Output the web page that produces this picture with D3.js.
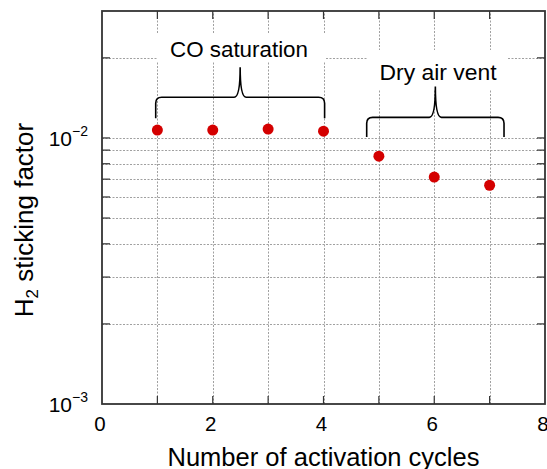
<!DOCTYPE html>
<html>
<head>
<meta charset="utf-8">
<script src="https://cdn.jsdelivr.net/npm/d3@7"></script>
<style>
  body { margin: 0; background: #fff; }
  text { font-family: "Liberation Sans", Arial, sans-serif; fill: #000; }
</style>
</head>
<body>
<svg id="chart"></svg>
<script>
// activation cycle number and H2 sticking factor
const cycles = [1, 2, 3, 4, 5, 6, 7]
const sticking = [0.0107, 0.0107, 0.0108, 0.0106, 0.00854, 0.00713, 0.00664]

const xTicks = [0, 2, 4, 6, 8]
const xMinorTicks = [1, 2, 3, 4, 5, 6, 7]
const yMajorTicks = [1e-3, 1e-2]
const yExponents = ["−3", "−2"]
const yGridTicks = [2e-3, 3e-3, 4e-3, 5e-3, 6e-3, 7e-3, 8e-3, 9e-3, 1e-2, 2e-2]

// brace annotations: label, x range, y of ends / bar / tip (data units)
const braceLabels = ["CO saturation", "Dry air vent"]
const braceX = [[0.97, 4.02], [4.78, 7.26]]
const braceY = [[0.01186, 0.01423, 0.01845], [0.01008, 0.01195, 0.0156]]

const width = 547, height = 469
const margin = {top: 11, right: 2, bottom: 65, left: 102}

const svg = d3.select("#chart")
  .attr("width", width)
  .attr("height", height)

const x = d3.scaleLinear().domain([0, 8]).range([margin.left, width - margin.right])
const y = d3.scaleLog().domain([1e-3, 3e-2]).range([height - margin.bottom, margin.top])

const x0 = x.range()[0], x1 = x.range()[1]
const y0 = y.range()[0], y1 = y.range()[1]

// grid
const grid = svg.append("g").attr("class", "grid")
  .attr("stroke", "#a0a0a0")
  .attr("stroke-width", 1)
  .attr("stroke-dasharray", "2,1.5")

grid.selectAll("line.h")
  .data(yGridTicks)
  .enter().append("line")
  .attr("class", "h")
  .attr("x1", x0).attr("x2", x1)
  .attr("y1", d => Math.round(y(d)) + 0.5)
  .attr("y2", d => Math.round(y(d)) + 0.5)

grid.selectAll("line.v")
  .data(xMinorTicks)
  .enter().append("line")
  .attr("class", "v")
  .attr("x1", d => Math.round(x(d)) + 0.5)
  .attr("x2", d => Math.round(x(d)) + 0.5)
  .attr("y1", y0).attr("y2", y1)

// white boxes behind the annotation labels
const boxes = [[157, 33, 168, 28], [367, 50, 140, 40]]
svg.append("g").selectAll("rect")
  .data(boxes)
  .enter().append("rect")
  .attr("x", d => d[0]).attr("y", d => d[1])
  .attr("width", d => d[2]).attr("height", d => d[3])
  .attr("fill", "#fff")

// ticks, all pointing inward
const tickLen = 8
const ticks = svg.append("g").attr("stroke", "#333").attr("stroke-width", 1.2)

ticks.selectAll("line.b")
  .data(xMinorTicks)
  .enter().append("line")
  .attr("x1", d => x(d)).attr("x2", d => x(d))
  .attr("y1", y0).attr("y2", y0 - tickLen)

ticks.selectAll("line.t")
  .data(xMinorTicks)
  .enter().append("line")
  .attr("x1", d => x(d)).attr("x2", d => x(d))
  .attr("y1", y1).attr("y2", y1 + tickLen)

ticks.selectAll("line.l")
  .data(yGridTicks)
  .enter().append("line")
  .attr("x1", x0).attr("x2", x0 + tickLen)
  .attr("y1", d => y(d)).attr("y2", d => y(d))

ticks.selectAll("line.r")
  .data(yGridTicks)
  .enter().append("line")
  .attr("x1", x1).attr("x2", x1 - tickLen)
  .attr("y1", d => y(d)).attr("y2", d => y(d))

// frame
svg.append("rect")
  .attr("x", x0).attr("y", y1)
  .attr("width", x1 - x0).attr("height", y0 - y1)
  .attr("fill", "none")
  .attr("stroke", "#333")
  .attr("stroke-width", 1.8)

// x tick labels
svg.append("g").selectAll("text")
  .data(xTicks)
  .enter().append("text")
  .attr("x", d => x(d) - 2)
  .attr("y", y0 + 27)
  .attr("text-anchor", "middle")
  .attr("font-size", 20.5)
  .text(d => d)

// y tick labels with superscript
const yLab = svg.append("g").selectAll("text")
  .data(yMajorTicks)
  .enter().append("text")
  .attr("x", x0 - 14)
  .attr("y", d => y(d) + 8)
  .attr("text-anchor", "end")
  .attr("font-size", 21)
yLab.append("tspan").text("10")
yLab.append("tspan")
  .attr("font-size", 14)
  .attr("dy", -10)
  .text((d, i) => yExponents[i])

// axis titles
svg.append("text")
  .attr("x", (x0 + x1) / 2)
  .attr("y", 466)
  .attr("text-anchor", "middle")
  .attr("font-size", 25)
  .attr("textLength", 312)
  .attr("lengthAdjust", "spacingAndGlyphs")
  .text("Number of activation cycles")

const yTitle = svg.append("text")
  .attr("transform", "translate(33,220) rotate(-90)")
  .attr("text-anchor", "middle")
  .attr("font-size", 26)
yTitle.append("tspan").text("H")
yTitle.append("tspan").attr("font-size", 17).attr("dy", 5).text("2")
yTitle.append("tspan").attr("dy", -5).text(" sticking factor")

// braces
function bracePath(xa, xb, yEnd, yBar, yTip) {
  const r = 6
  const xm = (xa + xb) / 2
  return `M${xa},${yEnd} L${xa},${yBar + r} Q${xa},${yBar} ${xa + r},${yBar}` +
    ` L${xm - r},${yBar} Q${xm},${yBar} ${xm},${yTip}` +
    ` Q${xm},${yBar} ${xm + r},${yBar} L${xb - r},${yBar}` +
    ` Q${xb},${yBar} ${xb},${yBar + r} L${xb},${yEnd}`
}

svg.append("g").selectAll("path")
  .data(braceX)
  .enter().append("path")
  .attr("d", (d, i) => bracePath(x(d[0]), x(d[1]), y(braceY[i][0]), y(braceY[i][1]), y(braceY[i][2])))
  .attr("fill", "none")
  .attr("stroke", "#000")
  .attr("stroke-width", 1.6)

const labelPos = [[239, 57, 138], [438, 80, 117]]
svg.append("g").selectAll("text")
  .data(braceLabels)
  .enter().append("text")
  .attr("x", (d, i) => labelPos[i][0])
  .attr("y", (d, i) => labelPos[i][1])
  .attr("text-anchor", "middle")
  .attr("font-size", 22)
  .attr("textLength", (d, i) => labelPos[i][2])
  .attr("lengthAdjust", "spacingAndGlyphs")
  .text(d => d)

// points
svg.append("g").selectAll("circle")
  .data(cycles)
  .enter().append("circle")
  .attr("cx", d => x(d))
  .attr("cy", (d, i) => y(sticking[i]))
  .attr("r", 5.5)
  .attr("fill", "#d40000")
</script>
</body>
</html>
